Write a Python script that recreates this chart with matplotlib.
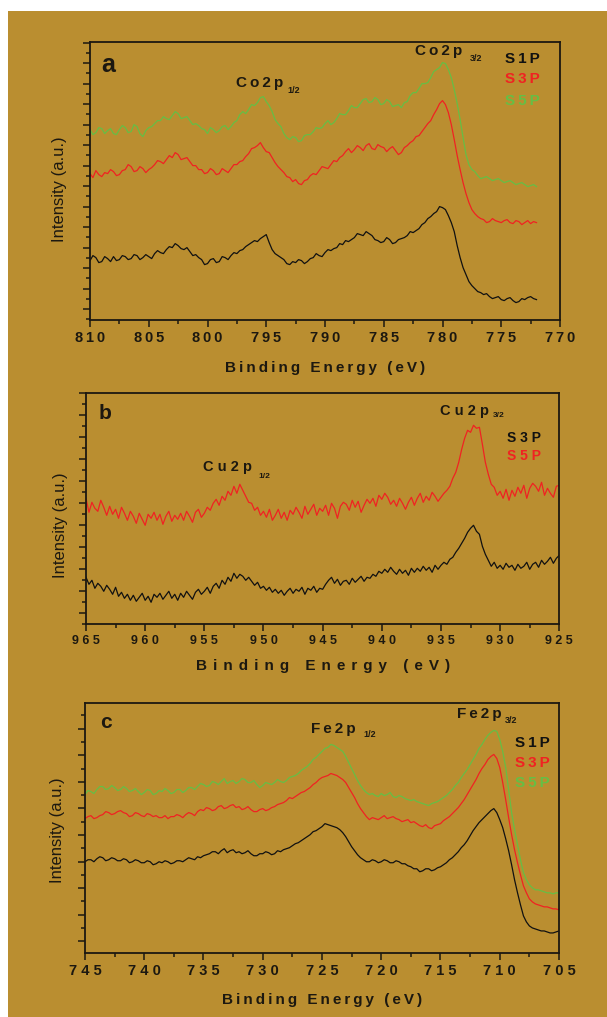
import numpy as np
import matplotlib
matplotlib.use("Agg")
import matplotlib.pyplot as plt
from matplotlib.patches import Rectangle
from matplotlib.ticker import MultipleLocator

# ---------------- data ----------------
# Panel a : Co 2p, energy grid 810 -> 772 eV, 0.25 eV steps
a_start, a_stop, a_step = 810.0, 772.0, 0.25
a_S1P = [59, 64, 62, 57, 58, 63, 61, 58, 63, 59,
         60, 64, 63, 60, 61, 65, 64, 60, 62, 65,
         63, 61, 66, 69, 67, 66, 70, 73, 72, 76,
         74, 71, 70, 72, 68, 64, 65, 62, 60, 55,
         56, 60, 61, 57, 58, 63, 62, 60, 64, 67,
         66, 69, 70, 73, 75, 77, 79, 78, 81, 83,
         85, 77, 70, 66, 64, 62, 60, 56, 55, 58,
         57, 60, 59, 56, 58, 61, 62, 66, 64, 63,
         67, 70, 69, 71, 72, 76, 75, 79, 78, 80,
         82, 86, 85, 84, 88, 86, 84, 80, 79, 77,
         78, 82, 80, 76, 77, 80, 81, 82, 84, 88,
         87, 89, 91, 95, 97, 101, 103, 106, 108, 113,
         112, 110, 104, 97, 88, 74, 62, 52, 45, 38,
         34, 31, 28, 27, 25, 26, 23, 21, 22, 23,
         20, 19, 21, 22, 19, 17, 18, 21, 20, 22,
         23, 21, 20]
a_S3P = [146, 142, 149, 145, 143, 147, 146, 150, 148, 144,
         145, 149, 150, 155, 153, 148, 149, 153, 151, 147,
         150, 152, 155, 159, 158, 156, 160, 164, 162, 167,
         165, 160, 161, 162, 158, 154, 154, 150, 150, 146,
         147, 151, 149, 145, 146, 151, 149, 147, 151, 155,
         155, 158, 159, 163, 166, 171, 172, 174, 177, 172,
         168, 167, 162, 157, 153, 150, 147, 143, 142, 138,
         140, 136, 135, 139, 140, 144, 146, 145, 149, 153,
         152, 151, 155, 159, 158, 162, 164, 168, 171, 167,
         170, 174, 172, 169, 174, 176, 171, 170, 175, 173,
         172, 168, 171, 173, 169, 165, 167, 172, 174, 177,
         179, 183, 184, 188, 192, 196, 199, 205, 210, 216,
         219, 215, 207, 195, 180, 164, 150, 137, 126, 117,
         110, 106, 103, 101, 100, 97, 98, 101, 99, 98,
         97, 99, 100, 97, 96, 99, 98, 95, 97, 99,
         96, 98, 97]
a_S5P = [190, 185, 187, 192, 191, 186, 189, 191, 186, 185,
         190, 194, 192, 187, 188, 195, 193, 186, 183, 189,
         192, 193, 196, 199, 199, 203, 201, 200, 204, 208,
         206, 201, 202, 203, 199, 195, 196, 194, 191, 190,
         186, 192, 190, 187, 189, 193, 194, 190, 193, 197,
         199, 205, 208, 206, 210, 215, 214, 217, 222, 223,
         218, 214, 208, 200, 196, 193, 186, 182, 180, 183,
         182, 178, 179, 184, 185, 185, 188, 192, 191, 192,
         196, 199, 195, 197, 201, 206, 205, 205, 209, 214,
         212, 212, 216, 220, 221, 217, 218, 222, 220, 215,
         216, 220, 218, 213, 214, 215, 212, 217, 218, 224,
         227, 227, 231, 236, 236, 237, 242, 248, 250, 252,
         257, 256, 250, 242, 230, 216, 200, 182, 165, 155,
         150, 148, 144, 141, 142, 143, 141, 139, 140, 141,
         139, 137, 138, 139, 137, 135, 136, 137, 135, 133,
         134, 135, 133]
a_ticks = [810, 805, 800, 795, 790, 785, 780, 775, 770]

# Panel b : Cu 2p, energy grid 965 -> 925 eV, 0.25 eV steps
b_start, b_stop, b_step = 965.0, 925.0, 0.25
b_S3P = [47, 40, 44, 36, 41, 38, 33, 39,
         35, 30, 37, 28, 32, 26, 30, 24,
         29, 23, 27, 31, 24, 28, 22, 30,
         27, 31, 25, 29, 33, 26, 30, 24,
         31, 27, 33, 29, 25, 32, 35, 30,
         33, 37, 31, 38, 41, 36, 44, 40,
         47, 43, 51, 46, 50, 48, 44, 47,
         43, 39, 42, 36, 38, 34, 37, 32,
         35, 31, 34, 29, 33, 36, 31, 35,
         33, 37, 30, 36, 34, 38, 32, 36,
         35, 40, 44, 47, 41, 45, 39, 43,
         44, 40, 46, 42, 45, 48, 43, 47,
         46, 50, 48, 53, 51, 55, 52, 57,
         53, 50, 55, 51, 54, 49, 56, 52,
         56, 53, 58, 54, 57, 52, 59, 55,
         59, 62, 60, 65, 67, 72, 76, 81,
         86, 92, 96, 99, 93, 90, 78, 70,
         64, 58, 62, 56, 59, 55, 61, 57,
         59, 54, 60, 56, 58, 62, 55, 60,
         62, 57, 64, 60, 63, 67, 61, 66,
         69]
b_S5P = [126, 112, 122, 116, 113, 124, 117, 109,
         118, 110, 115, 106, 117, 111, 104, 113,
         108, 101, 111, 105, 99, 110, 106, 112,
         104, 110, 100, 108, 113, 103, 109, 105,
         111, 104, 113, 108, 102, 112, 115, 107,
         111, 117, 114, 121, 125, 119, 128, 124,
         133, 129, 138, 131, 140, 134, 128, 122,
         121, 114, 117, 109, 113, 107, 115, 104,
         109, 115, 106, 112, 104, 114, 110, 117,
         112, 106, 118, 110, 115, 120, 109, 116,
         113, 119, 109, 121, 116, 106, 118, 122,
         120, 114, 124, 117, 123, 112, 119, 125,
         121, 126, 118, 129, 125, 131, 127, 120,
         124, 118, 126, 121, 115, 122, 127, 119,
         126, 131, 122, 128, 124, 132, 128, 123,
         127, 131, 134, 138, 146, 152, 162, 175,
         186, 194, 192, 199, 196, 197, 180, 162,
         150, 140, 137, 129, 133, 126, 135, 124,
         134, 128, 137, 131, 139, 126, 136, 141,
         138, 133, 142, 129, 136, 131, 127, 138,
         139]
b_ticks = [965, 960, 955, 950, 945, 940, 935, 930, 925]

# Panel c : Fe 2p, energy grid 745 -> 705 eV, 0.25 eV steps
c_start, c_stop, c_step = 745.0, 705.0, 0.25
c_S1P = [91, 93, 93, 91, 94, 96, 95, 92, 93, 95,
         94, 92, 92, 94, 93, 90, 91, 93, 92, 90,
         90, 92, 91, 88, 89, 91, 90, 92, 91, 89,
         90, 92, 92, 91, 93, 95, 94, 93, 96, 95,
         97, 98, 99, 101, 101, 99, 102, 104, 100, 102,
         103, 100, 101, 99, 100, 102, 99, 97, 97, 99,
         99, 101, 100, 98, 99, 102, 101, 103, 104, 105,
         107, 109, 110, 112, 114, 116, 118, 121, 122, 124,
         126, 129, 128, 127, 126, 125, 123, 120, 116, 111,
         106, 102, 98, 95, 93, 91, 91, 93, 92, 90,
         91, 93, 92, 90, 90, 92, 91, 89, 89, 87,
         86, 84, 84, 81, 82, 84, 84, 82, 83, 85,
         86, 88, 90, 93, 95, 98, 101, 105, 108, 112,
         117, 122, 126, 130, 133, 136, 139, 142, 144, 140,
         133, 125, 114, 102, 88, 73, 60, 48, 37, 31,
         27, 25, 24, 23, 22, 22, 21, 20, 20, 21,
         22]
c_S3P = [134, 136, 137, 134, 135, 137, 138, 141, 140, 138,
         139, 141, 142, 140, 139, 136, 137, 140, 139, 137,
         136, 139, 138, 136, 137, 135, 135, 137, 134, 136,
         136, 138, 137, 135, 138, 140, 139, 137, 141, 143,
         142, 145, 144, 142, 143, 146, 147, 144, 145, 147,
         148, 145, 146, 143, 144, 146, 143, 141, 141, 143,
         144, 142, 143, 145, 146, 148, 149, 150, 152, 155,
         154, 156, 158, 160, 161, 163, 165, 168, 170, 173,
         175, 176, 177, 179, 178, 177, 175, 173, 170, 165,
         160, 155, 149, 144, 140, 136, 133, 135, 134, 133,
         135, 137, 134, 135, 136, 134, 133, 131, 132, 133,
         130, 131, 129, 127, 126, 128, 125, 124, 127, 128,
         129, 132, 134, 136, 139, 142, 145, 149, 153, 158,
         163, 168, 173, 179, 184, 188, 193, 196, 198, 194,
         185, 170, 153, 135, 118, 103, 90, 78, 67, 60,
         54, 51, 49, 48, 47, 46, 46, 45, 44, 44,
         43]
c_S5P = [158, 162, 161, 159, 163, 166, 166, 163, 164, 167,
         165, 162, 163, 166, 164, 161, 162, 164, 161, 158,
         160, 163, 162, 158, 159, 162, 161, 164, 162, 159,
         160, 163, 163, 160, 162, 165, 165, 163, 166, 169,
         168, 166, 167, 171, 170, 168, 171, 174, 169, 171,
         172, 169, 171, 174, 173, 170, 170, 172, 168, 165,
         167, 170, 169, 168, 170, 173, 171, 170, 172, 175,
         176, 177, 179, 182, 184, 186, 189, 193, 195, 198,
         201, 204, 205, 208, 207, 205, 203, 201, 196, 190,
         184, 178, 172, 167, 163, 160, 158, 159, 157, 156,
         159, 157, 158, 160, 156, 155, 157, 156, 154, 153,
         152, 153, 151, 150, 149, 148, 147, 149, 150, 151,
         153, 155, 157, 160, 163, 167, 170, 175, 179, 183,
         188, 193, 198, 204, 208, 213, 217, 220, 222, 221,
         213, 201, 185, 163, 140, 123, 108, 93, 80, 73,
         68, 65, 63, 63, 62, 61, 60, 60, 59, 60,
         60]
c_ticks = [745, 740, 735, 730, 725, 720, 715, 710, 705]

# ---------------- style ----------------
GOLD = "#BA8E30"
INK = "#1C1810"
BLACK = "#111111"
RED = "#F02222"
GREEN = "#66BE45"
TS = "\u2009"  # thin space for letter spacing

plt.rcParams["font.family"] = ["Liberation Sans", "DejaVu Sans"]

W, H = 607, 1017
fig = plt.figure(figsize=(W / 100, H / 100), dpi=100)
fig.patch.set_facecolor(GOLD)
# white strips at top and left edge
fig.patches.append(Rectangle((0, 1 - 11 / H), 1, 11 / H, transform=fig.transFigure,
                             facecolor="white", edgecolor="none", zorder=-5))
fig.patches.append(Rectangle((0, 0), 8 / W, 1, transform=fig.transFigure,
                             facecolor="white", edgecolor="none", zorder=-5))


def spaced(s, sep=TS):
    return sep.join(s)


def make_axes(left, top, right, bottom):
    ax = fig.add_axes([left / W, 1 - bottom / H, (right - left) / W, (bottom - top) / H])
    ax.set_facecolor("none")
    for sp in ax.spines.values():
        sp.set_linewidth(1.3)
        sp.set_color(INK)
    return ax


def style_axes(ax, ticks, xlim, ylim, ystep, yoff, tick_sep, tick_fs, label_sep,
               xlabel_y, ylabel_x, ylabel_y):
    ax.set_xlim(*xlim)
    ax.set_ylim(*ylim)
    ax.set_xticks(ticks, [spaced(str(t), tick_sep) for t in ticks])
    ax.xaxis.set_minor_locator(MultipleLocator(2.5))
    ax.yaxis.set_major_locator(MultipleLocator(2 * ystep, offset=yoff))
    ax.yaxis.set_minor_locator(MultipleLocator(ystep, offset=yoff))
    ax.tick_params(which="both", direction="out", color=INK, width=1.1,
                   top=False, right=False, labelleft=False)
    ax.tick_params(which="major", length=5)
    ax.tick_params(which="minor", length=3)
    ax.tick_params(axis="x", which="major", pad=3, labelsize=tick_fs, labelcolor=INK)
    for lab in ax.get_xticklabels():
        lab.set_fontweight("bold")
    ax.set_xlabel(spaced("Binding Energy (eV)", label_sep), fontsize=11,
                  fontweight="bold", color=INK)
    ax.xaxis.set_label_coords(0.5, xlabel_y)
    ax.set_ylabel("Intensity (a.u.)", fontsize=12, color=INK)
    ax.yaxis.set_label_coords(ylabel_x, ylabel_y)


def peak_label(ax, x, y, main, sub, xs, ys, sep, fs=11, sfs=6.5):
    ax.text(x, y, spaced(main, sep), fontsize=fs, fontweight="bold", color=INK,
            ha="left", va="baseline")
    ax.text(xs, ys, sub, fontsize=sfs, fontweight="bold", color=INK,
            ha="left", va="baseline")


LW = 0.9

# ---------------- panel a ----------------
ax_a = make_axes(90, 42, 560, 319.6)
ea = np.arange(a_start, a_stop - 0.01, -a_step)
ax_a.plot(ea, a_S1P, color=BLACK, lw=LW)
ax_a.plot(ea, a_S3P, color=RED, lw=LW)
ax_a.plot(ea, a_S5P, color=GREEN, lw=LW)
style_axes(ax_a, a_ticks, (810, 770), (0, 277.6), 10.25, 10.5, TS, 10.5, TS,
           -0.150, -0.048, 0.47)
ax_a.text(809.0, 248, "a", fontsize=18, fontweight="bold", color=INK, va="baseline")
peak_label(ax_a, 782.3, 265, "Co2p", "3/2", 777.7, 259, TS)
peak_label(ax_a, 797.6, 233, "Co2p", "1/2", 793.2, 226.5, TS)
for txt, col, yy in [("S1P", BLACK, 257), ("S3P", RED, 236.5), ("S5P", GREEN, 215)]:
    ax_a.text(774.7, yy, spaced(txt), fontsize=11, fontweight="bold", color=col,
              va="baseline")

# ---------------- panel b ----------------
ax_b = make_axes(86, 393.3, 559.3, 624.3)
eb = np.arange(b_start, b_stop - 0.01, -b_step)
ax_b.plot(eb, b_S3P, color=BLACK, lw=LW)
ax_b.plot(eb, b_S5P, color=RED, lw=LW)
style_axes(ax_b, b_ticks, (965, 925), (0, 231), 11, 11, " ", 9, TS + TS,
           -0.150, -0.038, 0.43)
ax_b.text(963.96, 205, "b", fontsize=15, fontweight="bold", color=INK, va="baseline")
peak_label(ax_b, 935.1, 209.3, "Cu2p", "3/2", 930.6, 207.6, " ", fs=10.5, sfs=6)
peak_label(ax_b, 955.1, 153.3, "Cu2p", "1/2", 950.4, 146.6, " ", fs=10.5, sfs=6)
for txt, col, yy in [("S3P", BLACK, 182), ("S5P", RED, 164.3)]:
    ax_b.text(929.4, yy, spaced(txt, " "), fontsize=10, fontweight="bold", color=col,
              va="baseline")

# ---------------- panel c ----------------
ax_c = make_axes(85, 703.3, 559, 953)
ec = np.arange(c_start, c_stop - 0.01, -c_step)
ax_c.plot(ec, c_S1P, color=BLACK, lw=LW)
ax_c.plot(ec, c_S3P, color=RED, lw=LW)
ax_c.plot(ec, c_S5P, color=GREEN, lw=LW)
style_axes(ax_c, c_ticks, (745, 705), (0, 249), 13.25, 11.7, " ", 10.5, TS,
           -0.160, -0.042, 0.49)
ax_c.text(743.7, 224.7, "c", fontsize=15, fontweight="bold", color=INK, va="baseline")
peak_label(ax_c, 713.6, 234, "Fe2p", "3/2", 709.6, 229.7, TS)
peak_label(ax_c, 725.9, 219.7, "Fe2p", "1/2", 721.5, 215.3, TS)
for txt, col, yy in [("S1P", BLACK, 205.3), ("S3P", RED, 185.3), ("S5P", GREEN, 165.3)]:
    ax_c.text(708.7, yy, spaced(txt), fontsize=11, fontweight="bold", color=col,
              va="baseline")

fig.savefig("out.png", dpi=100, facecolor=fig.get_facecolor())
